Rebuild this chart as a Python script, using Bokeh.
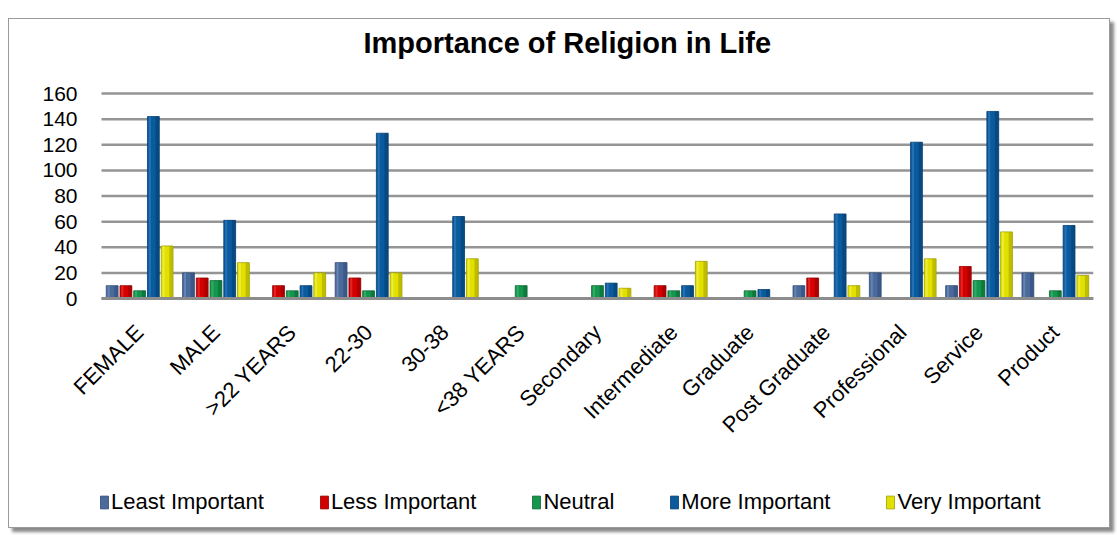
from bokeh.plotting import figure
from bokeh.models import (ColumnDataSource, Range1d, Legend, LegendItem,
                          Title, FixedTicker)
from bokeh.transform import dodge
from bokeh.embed import file_html
from bokeh.resources import INLINE
import math

categories = ["FEMALE", "MALE", ">22 YEARS", "22-30", "30-38", "<38 YEARS",
              "Secondary", "Intermediate", "Graduate", "Post Graduate",
              "Professional", "Service", "Product"]
least_important = [10, 20, 0, 28, 0, 0, 0, 0, 0, 10, 20, 10, 20]
less_important = [10, 16, 10, 16, 0, 0, 0, 10, 0, 16, 0, 25, 0]
neutral = [6, 14, 6, 6, 0, 10, 10, 6, 6, 0, 0, 14, 6]
more_important = [142, 61, 10, 129, 64, 0, 12, 10, 7, 66, 122, 146, 57]
very_important = [41, 28, 20, 20, 31, 0, 8, 29, 0, 10, 31, 52, 18]
y_ticks = [0, 20, 40, 60, 80, 100, 120, 140, 160]

series = [
    ("Least Important", "least", "#4A6A9C", "#2E4A78", "#7F9CC8"),
    ("Less Important", "less", "#D40000", "#8E0000", "#F04848"),
    ("Neutral", "neutral", "#14964C", "#0A6432", "#4CC07C"),
    ("More Important", "more", "#0A5A9E", "#063C6C", "#3C86C8"),
    ("Very Important", "very", "#E2E000", "#A0A000", "#F6F66A"),
]

# each category occupies one unit slot, centred at i + 0.5
n_cat = len(categories)
x_pos = [i + 0.5 for i in range(n_cat)]

source = ColumnDataSource(data=dict(
    x=x_pos, cat=categories,
    least=least_important, less=less_important, neutral=neutral,
    more=more_important, very=very_important,
))

# The frame is larger than the bar area so that the rotated category names,
# the value labels and the legend all sit inside it.
FRAME_W = 1063
FRAME_H = 441
BAR_AREA_W = 992
BAR_AREA_H = 205
TOP_PAD = 12
px_per_x = BAR_AREA_W / n_cat
px_per_y = BAR_AREA_H / 160
x_low = -(FRAME_W - BAR_AREA_W) / px_per_x
y_low = -(FRAME_H - BAR_AREA_H - TOP_PAD) / px_per_y
y_high = 160 + TOP_PAD / px_per_y

p = figure(
    x_range=Range1d(x_low, n_cat),
    y_range=Range1d(y_low, y_high),
    frame_width=FRAME_W, frame_height=FRAME_H,
    output_backend="svg", toolbar_location=None,
    title=None,
    min_border_left=21, min_border_right=16, min_border_top=62,
    min_border_bottom=5,
    background_fill_color="white", border_fill_color="white",
    outline_line_color=None,
    styles={"margin-left": "8px", "margin-top": "18px",
            "border": "1px solid #9a9a9a",
            "box-shadow": "4px 4px 3px #8a8a8a"},
)

# small blank spacer between the frame and the heading
p.add_layout(Title(text=" ", text_font_size="6px"), "above")
p.add_layout(Title(text="Importance of Religion in Life", align="left",
                   offset=333,
                   text_font="Liberation Sans", text_font_size="29px",
                   text_font_style="bold", text_color="black"), "above")

# horizontal grid lines across the bar area only
p.segment(x0=0, x1=n_cat, y0=y_ticks, y1=y_ticks,
          line_color="#959595", line_width=2.5)

offsets = [-0.36, -0.18, 0.0, 0.18, 0.36]
bar_w = 0.155
legend_items = []
for (label, col, base, dark, light), off in zip(series, offsets):
    main = p.vbar(x=dodge("x", off), top=col, width=bar_w,
                  source=source, fill_color=base, line_color=dark, line_width=0.8)
    # shaded right edge and highlighted left edge give a bevelled look
    p.vbar(x=dodge("x", off + bar_w * 0.33), top=col,
           width=bar_w * 0.3, source=source, fill_color=dark, fill_alpha=0.55,
           line_color=None)
    p.vbar(x=dodge("x", off - bar_w * 0.3), top=col,
           width=bar_w * 0.18, source=source, fill_color=light, fill_alpha=0.5,
           line_color=None)
    legend_items.append(LegendItem(label=label, renderers=[main]))

p.xgrid.visible = False
p.ygrid.visible = False

p.yaxis.fixed_location = 0
p.yaxis.ticker = FixedTicker(ticks=y_ticks)
p.yaxis.axis_line_color = None
p.yaxis.major_tick_line_color = None
p.yaxis.minor_tick_line_color = None
p.yaxis.major_tick_out = 0
p.yaxis.minor_tick_out = 0
p.yaxis.major_label_text_font = "Liberation Sans"
p.yaxis.major_label_text_font_size = "21px"
p.yaxis.major_label_text_color = "black"
p.yaxis.major_label_standoff = 24

p.xaxis.fixed_location = 0
p.xaxis.bounds = (0, n_cat)
p.xaxis.ticker = FixedTicker(ticks=x_pos)
p.xaxis.major_label_overrides = {x: c for x, c in zip(x_pos, categories)}
p.xaxis.axis_line_color = "#8c8c8c"
p.xaxis.axis_line_width = 3
p.xaxis.major_tick_line_color = None
p.xaxis.minor_tick_line_color = None
p.xaxis.major_tick_out = 0
p.xaxis.minor_tick_out = 0
p.xaxis.major_label_orientation = math.pi / 4
p.xaxis.major_label_text_font = "Liberation Sans"
p.xaxis.major_label_text_font_size = "22px"
p.xaxis.major_label_text_color = "black"
p.xaxis.major_label_standoff = 30

legend = Legend(items=legend_items, orientation="horizontal",
                location=(69, 7), label_text_font="Liberation Sans",
                label_text_font_size="22px", label_text_color="black",
                glyph_width=10, glyph_height=16, spacing=55,
                label_standoff=2, border_line_color=None,
                background_fill_alpha=0, margin=0, padding=4)
p.add_layout(legend, "center")

open("out.html", "w").write(file_html(p, INLINE))
